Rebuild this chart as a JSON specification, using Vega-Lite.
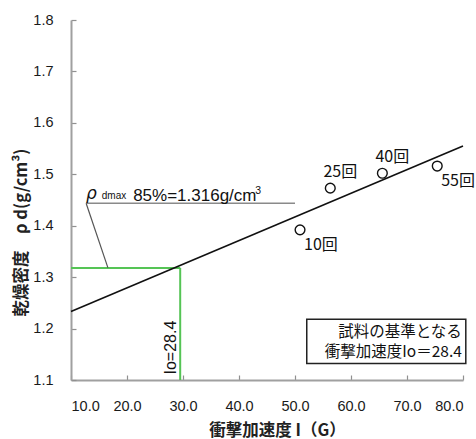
{
  "$schema": "https://vega.github.io/schema/vega-lite/v6.json",
  "autosize": "none",
  "width": 392,
  "height": 360,
  "padding": {"left": 71, "top": 20, "right": 13, "bottom": 59},
  "background": "white",
  "config": {
    "view": {"stroke": null},
    "font": "Liberation Sans",
    "axis": {
      "grid": false,
      "domainColor": "#a0a0a0",
      "domainWidth": 2,
      "tickColor": "#909090",
      "tickWidth": 1.2,
      "tickSize": -5,
      "labelFont": "Liberation Sans",
      "labelFontSize": 14.5,
      "labelColor": "#1a1a1a",
      "titleFont": "Noto Sans CJK JP",
      "titleFontSize": 16.5,
      "titleFontWeight": "bold",
      "titleColor": "#222222"
    }
  },
  "datasets": {
    "pts": [
      {"I": 50.9, "rho": 1.392, "label": "10回"},
      {"I": 56.3, "rho": 1.473, "label": "25回"},
      {"I": 65.6, "rho": 1.502, "label": "40回"},
      {"I": 75.4, "rho": 1.516, "label": "55回"}
    ]
  },
  "layer": [
    {
      "data": {"values": [
        {"x": 10, "y": 1.318, "x2": 29.5, "y2": 1.318},
        {"x": 29.5, "y": 1.1, "x2": 29.5, "y2": 1.318}
      ]},
      "mark": {"type": "rule", "color": "#55c455", "strokeWidth": 2},
      "encoding": {
        "x": {"field": "x", "type": "quantitative", "scale": {"domain": [10, 80]},
              "axis": {"values": [10, 20, 30, 40, 50, 60, 70, 80], "format": ".1f", "labelPadding": 24,
                       "title": "衝撃加速度 I（G）", "titleX": 206, "titleY": 50, "titleBaseline": "middle", "titleAlign": "center"}},
        "y": {"field": "y", "type": "quantitative", "scale": {"domain": [1.1, 1.8]},
              "axis": {"values": [1.1, 1.2, 1.3, 1.4, 1.5, 1.6, 1.7, 1.8], "format": ".1f", "labelPadding": 23,
                       "title": "乾燥密度　ρ d(g/cm³)", "titleX": -50, "titleY": 212, "titleBaseline": "middle", "titleAlign": "center", "titleAngle": -90}},
        "x2": {"field": "x2"},
        "y2": {"field": "y2"}
      }
    },
    {
      "data": {"values": [
        {"x": 10, "y": 1.233, "x2": 80, "y2": 1.555}
      ]},
      "mark": {"type": "rule", "color": "#111111", "strokeWidth": 1.6},
      "encoding": {
        "x": {"field": "x", "type": "quantitative"},
        "y": {"field": "y", "type": "quantitative"},
        "x2": {"field": "x2"},
        "y2": {"field": "y2"}
      }
    },
    {
      "data": {"values": [
        {"x": 12.7, "y": 1.4436, "x2": 50, "y2": 1.4436}
      ]},
      "mark": {"type": "rule", "color": "#8a8a8a", "strokeWidth": 1.5},
      "encoding": {
        "x": {"field": "x", "type": "quantitative"},
        "y": {"field": "y", "type": "quantitative"},
        "x2": {"field": "x2"},
        "y2": {"field": "y2"}
      }
    },
    {
      "data": {"values": [
        {"x": 12.7, "y": 1.4436, "x2": 16.6, "y2": 1.318}
      ]},
      "mark": {"type": "rule", "color": "#555555", "strokeWidth": 1.2},
      "encoding": {
        "x": {"field": "x", "type": "quantitative"},
        "y": {"field": "y", "type": "quantitative"},
        "x2": {"field": "x2"},
        "y2": {"field": "y2"}
      }
    },
    {
      "data": {"name": "pts"},
      "mark": {"type": "point", "shape": "circle", "filled": false, "fill": "white", "fillOpacity": 1, "stroke": "#111111", "strokeWidth": 1.4, "size": 95, "opacity": 1},
      "encoding": {
        "x": {"field": "I", "type": "quantitative"},
        "y": {"field": "rho", "type": "quantitative"}
      }
    },
    {
      "data": {"values": [
        {"I": 50.9, "rho": 1.392, "label": "10回"},
        {"I": 75.4, "rho": 1.516, "label": "55回"}
      ]},
      "mark": {"type": "text", "font": "Noto Sans CJK JP", "fontSize": 16, "align": "left", "baseline": "middle", "dx": 4, "dy": 15, "color": "#111111"},
      "encoding": {
        "x": {"field": "I", "type": "quantitative"},
        "y": {"field": "rho", "type": "quantitative"},
        "text": {"field": "label"}
      }
    },
    {
      "data": {"values": [
        {"I": 56.3, "rho": 1.473, "label": "25回"},
        {"I": 65.6, "rho": 1.502, "label": "40回"}
      ]},
      "mark": {"type": "text", "font": "Noto Sans CJK JP", "fontSize": 16, "align": "center", "baseline": "middle", "dx": 10, "dy": -16, "color": "#111111"},
      "encoding": {
        "x": {"field": "I", "type": "quantitative"},
        "y": {"field": "rho", "type": "quantitative"},
        "text": {"field": "label"}
      }
    },
    {
      "data": {"values": [{"x": 12.7, "y": 1.452, "t": "ρ"}]},
      "mark": {"type": "text", "font": "DejaVu Sans", "fontSize": 17, "fontStyle": "italic", "align": "left", "baseline": "alphabetic", "color": "#111111"},
      "encoding": {
        "x": {"field": "x", "type": "quantitative"},
        "y": {"field": "y", "type": "quantitative"},
        "text": {"field": "t"}
      }
    },
    {
      "data": {"values": [{"x": 15.5, "y": 1.452, "t": "dmax"}]},
      "mark": {"type": "text", "font": "Liberation Sans", "fontSize": 10, "align": "left", "baseline": "alphabetic", "color": "#111111"},
      "encoding": {
        "x": {"field": "x", "type": "quantitative"},
        "y": {"field": "y", "type": "quantitative"},
        "text": {"field": "t"}
      }
    },
    {
      "data": {"values": [{"x": 21.1, "y": 1.448, "t": "85%=1.316g/cm"}]},
      "mark": {"type": "text", "font": "Liberation Sans", "fontSize": 17, "align": "left", "baseline": "alphabetic", "color": "#111111"},
      "encoding": {
        "x": {"field": "x", "type": "quantitative"},
        "y": {"field": "y", "type": "quantitative"},
        "text": {"field": "t"}
      }
    },
    {
      "data": {"values": [{"x": 42.9, "y": 1.462, "t": "3"}]},
      "mark": {"type": "text", "font": "Liberation Sans", "fontSize": 10.5, "align": "left", "baseline": "alphabetic", "color": "#111111"},
      "encoding": {
        "x": {"field": "x", "type": "quantitative"},
        "y": {"field": "y", "type": "quantitative"},
        "text": {"field": "t"}
      }
    },
    {
      "data": {"values": [{"x": 27.9, "y": 1.163, "t": "Io=28.4"}]},
      "mark": {"type": "text", "font": "Liberation Sans", "fontSize": 16, "angle": 270, "align": "center", "baseline": "middle", "color": "#111111"},
      "encoding": {
        "x": {"field": "x", "type": "quantitative"},
        "y": {"field": "y", "type": "quantitative"},
        "text": {"field": "t"}
      }
    },
    {
      "data": {"values": [{"x": 52.1, "x2": 80.5, "y": 1.132, "y2": 1.218}]},
      "mark": {"type": "rect", "fill": "white", "stroke": "#222222", "strokeWidth": 1.5},
      "encoding": {
        "x": {"field": "x", "type": "quantitative"},
        "x2": {"field": "x2"},
        "y": {"field": "y", "type": "quantitative"},
        "y2": {"field": "y2"}
      }
    },
    {
      "data": {"values": [
        {"x": 79.8, "y": 1.194, "t": "試料の基準となる"},
        {"x": 79.8, "y": 1.155, "t": "衝撃加速度Io＝28.4"}
      ]},
      "mark": {"type": "text", "font": "Noto Sans CJK JP", "fontSize": 15.5, "align": "right", "baseline": "middle", "color": "#111111"},
      "encoding": {
        "x": {"field": "x", "type": "quantitative"},
        "y": {"field": "y", "type": "quantitative"},
        "text": {"field": "t"}
      }
    }
  ]
}
